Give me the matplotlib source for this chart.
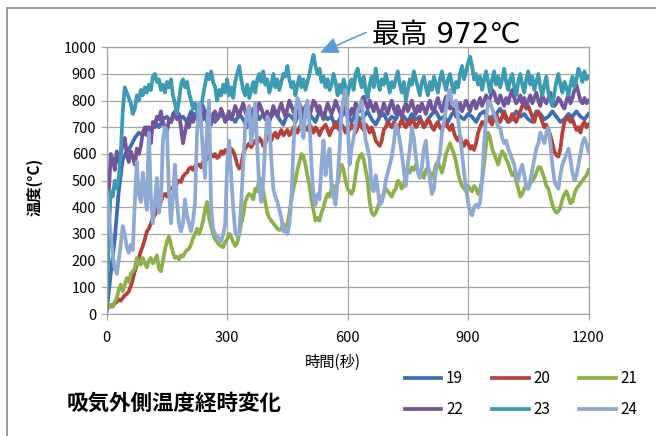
import numpy as np
import matplotlib
matplotlib.use("Agg")
import matplotlib.pyplot as plt
from matplotlib.lines import Line2D
from matplotlib.patches import FancyArrowPatch

plt.rcParams['font.family'] = ['Noto Sans CJK JP', 'DejaVu Sans']

# time axes (seconds)
time_5s = list(range(0, 1201, 5))
time_10s = list(range(0, 1201, 10))

# series 19 (mostly hidden under 22/23), sampled every 10 s
s19 = [10, 150, 280, 460, 580, 610, 630, 660, 680, 670, 700, 690, 720, 700, 730, 740, 720, 750, 730, 740, 720, 760, 740, 750, 730, 760, 740, 720, 750, 740, 730,
       740, 720, 750, 730, 700, 740, 760, 730, 750, 720, 740, 760, 730, 710, 750, 740, 720, 760, 730, 750, 740, 720, 760, 750, 730, 740, 700, 730, 760, 740,
       720, 750, 730, 740, 760, 730, 710, 740, 750, 720, 740, 730, 760, 740, 720, 750, 730, 740, 700, 730, 750, 760, 730, 740, 720, 750, 760, 740, 730, 750,
       740, 720, 750, 760, 730, 740, 750, 770, 740, 720, 730, 760, 740, 750, 730, 720, 760, 750, 730, 740, 760, 740, 720, 730, 750, 740, 760, 740, 730, 750]

# remaining series sampled every 5 s
s20 = [20, 25, 30, 28, 40, 45, 55, 50, 60, 70,
       75, 85, 105, 130, 160, 185, 210, 235, 255, 280,
       310, 320, 340, 360, 370, 395, 410, 420, 445, 450,
       440, 460, 470, 475, 465, 490, 500, 495, 515, 525,
       530, 545, 550, 540, 555, 560, 560, 550, 570, 585,
       580, 595, 600, 590, 600, 585, 590, 610, 600, 615,
       610,
       600, 620, 610, 590, 560, 545, 560, 600, 620, 630,
       640, 625, 640, 650, 640, 660, 650, 630, 640, 660,
       670, 650, 670, 680, 660, 675, 690, 670, 680, 690,
       670, 680, 700, 690, 680, 700, 710, 690, 700, 690,
       710, 700, 680, 700, 690, 670, 690, 700, 710, 690,
       670, 690, 700, 720, 700, 690, 710, 700, 680, 700,
       690, 710, 700, 680, 700, 720, 700, 690, 710, 700,
       680, 700, 680, 650, 640, 630, 650, 690, 700, 720,
       710, 700, 720, 710, 690, 710, 730, 710, 700, 720,
       710, 730, 720, 700, 710, 730, 720, 700, 710, 730,
       720, 700, 690, 710, 720, 700, 690, 710, 720, 700,
       690, 710, 680, 660, 650, 670, 640, 630, 650, 640,
       620, 630, 615, 640, 680, 700, 720, 710, 730, 740,
       720, 710, 740, 750, 730, 720, 740, 760, 740, 720,
       730, 750, 730, 720, 740, 760, 780, 790, 770, 780,
       760, 740, 720, 750, 760, 740, 720, 700, 710, 690,
       670, 640, 610, 595, 590, 620, 680, 720, 730, 740,
       720, 730, 710, 690, 700, 680, 710, 720, 700, 710]

s21 = [20, 25, 35, 30, 45, 60, 90, 110, 85, 110,
       135, 120, 150, 160, 170, 210, 190, 185, 210, 190,
       175, 200, 210, 190, 200, 220, 170, 160, 200, 240,
       272, 290, 260, 230, 210, 215, 205, 220, 215, 230,
       240, 245, 260, 285, 300, 320, 300, 320, 350, 390,
       420, 360, 330, 300, 280, 270, 260, 255, 250, 270,
       280,
       300, 290, 270, 255, 265, 300, 340, 370, 420, 440,
       450, 445, 430, 470, 460, 510, 500, 460, 420, 380,
       360, 350, 340, 330, 320, 315, 320, 340, 310, 330,
       380, 430, 470, 500, 540, 570, 600, 590, 560, 520,
       480, 430, 390, 350, 360, 350, 380, 400, 430, 450,
       440, 470, 480, 460, 490, 530, 560, 540, 500, 470,
       460, 450, 470, 520, 570, 590, 600, 580, 540, 500,
       420, 380, 370, 380, 400, 420, 440, 450, 470, 460,
       450, 440, 460, 470, 500, 490, 470, 480, 520, 540,
       530, 550, 540, 560, 540, 520, 530, 510, 540, 550,
       530, 510, 530, 560, 570, 550, 530, 560, 600, 620,
       640, 620, 600, 570, 530, 500, 480, 470, 460, 480,
       470, 460, 480, 470, 450, 470, 500, 560, 640, 680,
       660, 620, 600, 580, 560, 590, 610, 600, 580, 565,
       540, 520, 530, 500, 470, 440, 450, 470, 480, 470,
       490, 500, 510, 530, 550, 550, 530, 510, 480, 470,
       440, 410, 390, 380, 385, 400, 430, 450, 460, 440,
       415, 420, 450, 470, 480, 490, 500, 510, 520, 540]

s22 = [20, 450, 600, 580, 540, 610, 570, 600, 640, 660,
       600, 570, 610, 590, 560, 620, 600, 630, 680, 700,
       670, 700, 640, 720, 700, 740, 730, 760, 720, 700,
       680, 730, 720, 750, 760, 730, 750, 700, 640, 680,
       720, 700, 740, 720, 750, 730, 760, 740, 780, 750,
       720, 740, 710, 750, 760, 730, 740, 770, 750, 720,
       740,
       760, 730, 750, 780, 760, 740, 770, 790, 760, 740,
       720, 750, 770, 740, 760, 790, 770, 750, 730, 760,
       720, 750, 780, 760, 740, 770, 790, 760, 740, 770,
       800, 780, 760, 740, 760, 790, 770, 750, 780, 760,
       740, 770, 800, 790, 760, 780, 750, 730, 760, 790,
       770, 750, 770, 800, 780, 760, 740, 770, 790, 760,
       740, 770, 750, 790, 780, 760, 800, 815, 790, 770,
       800, 780, 760, 790, 770, 740, 760, 790, 770, 750,
       780, 800, 770, 750, 780, 760, 740, 770, 790, 760,
       780, 800, 770, 750, 780, 760, 790, 770, 750, 780,
       800, 770, 760, 790, 810, 780, 760, 790, 815, 800,
       770, 790, 760, 740, 770, 790, 760, 780, 800, 780,
       760, 790, 800, 770, 790, 810, 780, 800, 820, 790,
       810, 840, 830, 800, 790, 820, 800, 780, 810, 790,
       820, 840, 810, 790, 800, 820, 790, 810, 780, 800,
       820, 790, 810, 830, 800, 780, 820, 800, 790, 810,
       830, 800, 780, 790, 810, 800, 780, 770, 800, 820,
       790, 810, 840, 860, 830, 800, 790, 810, 790, 800]

s23 = [30, 300, 460, 440, 500, 470, 510, 600, 760, 850,
       830, 810, 790, 750, 770, 820, 800, 840, 820, 850,
       830, 860, 840, 890, 900, 870, 880, 840, 860, 830,
       870, 850, 880, 820, 790, 750, 800, 860, 880, 850,
       870, 830, 800, 770, 790, 760, 730, 770, 820, 860,
       900, 880, 910, 870, 850, 800, 840, 820, 860, 830,
       880,
       820, 850, 810, 870, 900, 930, 880, 840, 820, 860,
       810, 840, 870, 830, 880, 900, 870, 910, 860, 880,
       830, 860, 900, 850, 880, 840, 870, 900, 890, 930,
       880, 850, 870, 820, 860, 890, 850, 880, 840, 870,
       900, 940, 972, 930, 900, 920, 870, 890, 850, 880,
       840, 860, 900, 870, 820, 860, 830, 880, 850, 820,
       860, 880, 840, 900, 920, 880, 850, 890, 840, 810,
       860, 890, 850, 920, 870, 840, 880, 860, 900, 870,
       830, 870, 850, 880, 910, 860, 830, 870, 800, 840,
       880, 860, 910, 880, 850, 820, 870, 890, 850, 820,
       870, 840, 890, 860, 830, 880, 910, 870, 840, 880,
       900, 860, 830, 870, 850, 900, 930, 880, 910, 940,
       965, 930, 880, 900, 860, 890, 840, 880, 910, 870,
       830, 880, 910, 860, 890, 850, 880, 920, 870, 840,
       880, 900, 850, 820, 870, 900, 860, 830, 880, 910,
       860, 890, 840, 870, 900, 850, 820, 860, 890, 830,
       800, 780, 830, 870, 900, 860, 830, 870, 850, 820,
       860, 890, 850, 880, 920, 900, 870, 910, 880, 890]

s24 = [460, 380, 300, 220, 170, 150, 200, 260, 330, 300,
       250, 230, 260, 240, 420, 570, 450, 420, 530, 450,
       390, 680, 440, 340, 420, 510, 380, 420, 650, 700,
       690, 460, 340, 440, 560, 420, 340, 310, 340, 430,
       370, 340, 310, 350, 420, 680, 790, 720, 600, 510,
       700, 800, 400, 320, 300, 290, 285, 272, 300, 335,
       560,
       650, 520, 400, 310, 290, 300, 420, 560, 700, 760,
       780, 640, 700, 790, 620, 480, 420, 500, 650, 740,
       720, 580, 470, 440, 420, 390, 360, 310, 320, 300,
       340, 430, 620, 760, 810, 790, 700, 660, 760, 800,
       720, 560, 440, 410, 450, 430, 560, 650, 520, 580,
       620, 480, 440, 410, 500, 620, 760, 810, 840, 720,
       560, 620, 660, 710, 760, 780, 800, 720, 650, 620,
       580, 470, 460, 520, 470, 410, 420, 450, 500, 530,
       560, 590, 640, 710, 690, 650, 600, 540, 480, 560,
       620, 700, 660, 590, 530, 510, 550, 620, 650, 560,
       500, 450, 470, 540, 570, 600, 680, 720, 770, 820,
       840, 790, 780, 800, 730, 670, 600, 530, 470, 420,
       380, 370, 400, 410, 400, 420, 500, 640, 730, 800,
       790, 770, 750, 730, 700, 700, 660, 640, 650, 620,
       600, 580, 560, 520, 500, 540, 560, 520, 480, 470,
       500, 540, 580, 620, 640, 680, 660, 640, 680, 700,
       640, 560, 500, 480, 470, 520, 560, 580, 600, 620,
       580, 530, 500, 520, 560, 600, 640, 660, 640, 610]

series_names = ['19', '20', '21', '22', '23', '24']
series_times = [time_10s, time_5s, time_5s, time_5s, time_5s, time_5s]
series_values = [s19, s20, s21, s22, s23, s24]
series_colors = ['#3C6EB4', '#B5413C', '#8DB14A', '#72559A', '#3C9AB2', '#8EA9D3']

x_ticks = [0, 300, 600, 900, 1200]
y_ticks = list(range(0, 1001, 100))

W, H = 656, 436
fig = plt.figure(figsize=(W / 100, H / 100), dpi=100)
ax = fig.add_axes([106.7 / W, 1 - 314 / H, (588.5 - 106.7) / W, (314 - 47.3) / H])

for name, tt, vals, col in zip(series_names, series_times, series_values, series_colors):
    ax.plot(tt, vals, color=col, lw=2.7, label=name, solid_joinstyle='round')

ax.set_xlim(0, 1200)
ax.set_ylim(0, 1000)
ax.set_xticks(x_ticks)
ax.set_yticks(y_ticks)
ax.grid(True, color='#A6A6A6', lw=0.9)
ax.set_axisbelow(True)
for sp in ax.spines.values():
    sp.set_color('#A6A6A6')
    sp.set_linewidth(0.9)
ax.tick_params(axis='both', colors='#A6A6A6', length=4, width=0.9, labelsize=10.5, labelcolor='black')
ax.tick_params(axis='x', pad=8)

fig.text(34 / W, 1 - 187 / H, '温度(°C)', rotation=90, ha='center', va='center', fontsize=11, fontweight='bold')
fig.text(333 / W, 1 - 362 / H, '時間(秒)', ha='center', va='center', fontsize=11)
fig.text(67 / W, 1 - 403 / H, '吸気外側温度経時変化', ha='left', va='center', fontsize=15.5, fontweight='bold')

fig.text(372 / W, 1 - 35 / H, '最高 972℃', ha='left', va='center', fontsize=20,
         family=['DejaVu Sans', 'Noto Sans CJK JP'])
fig.add_artist(FancyArrowPatch((366 / W, 1 - 32.5 / H), (320 / W, 1 - 52.7 / H),
                               transform=fig.transFigure, arrowstyle='-|>,head_length=0.55,head_width=0.25',
                               color='#5B9BD5', lw=1.2, mutation_scale=20, shrinkA=0, shrinkB=0))

handles, labels = ax.get_legend_handles_labels()
order = [0, 3, 1, 4, 2, 5]
fig.legend([handles[i] for i in order], [labels[i] for i in order], ncol=3, loc='center left',
           bbox_to_anchor=(391 / W, 1 - 394 / H), frameon=False, fontsize=11,
           handlelength=2.4, columnspacing=1.9, labelspacing=0.9, handletextpad=0.3)

fig.add_artist(Line2D([7 / W, 1], [1 - 8 / H, 1 - 8 / H], transform=fig.transFigure, color='#8C8C8C', lw=1.2))
fig.add_artist(Line2D([7 / W, 7 / W], [0, 1 - 8 / H], transform=fig.transFigure, color='#8C8C8C', lw=1.2))

fig.savefig('out.png', dpi=100)
